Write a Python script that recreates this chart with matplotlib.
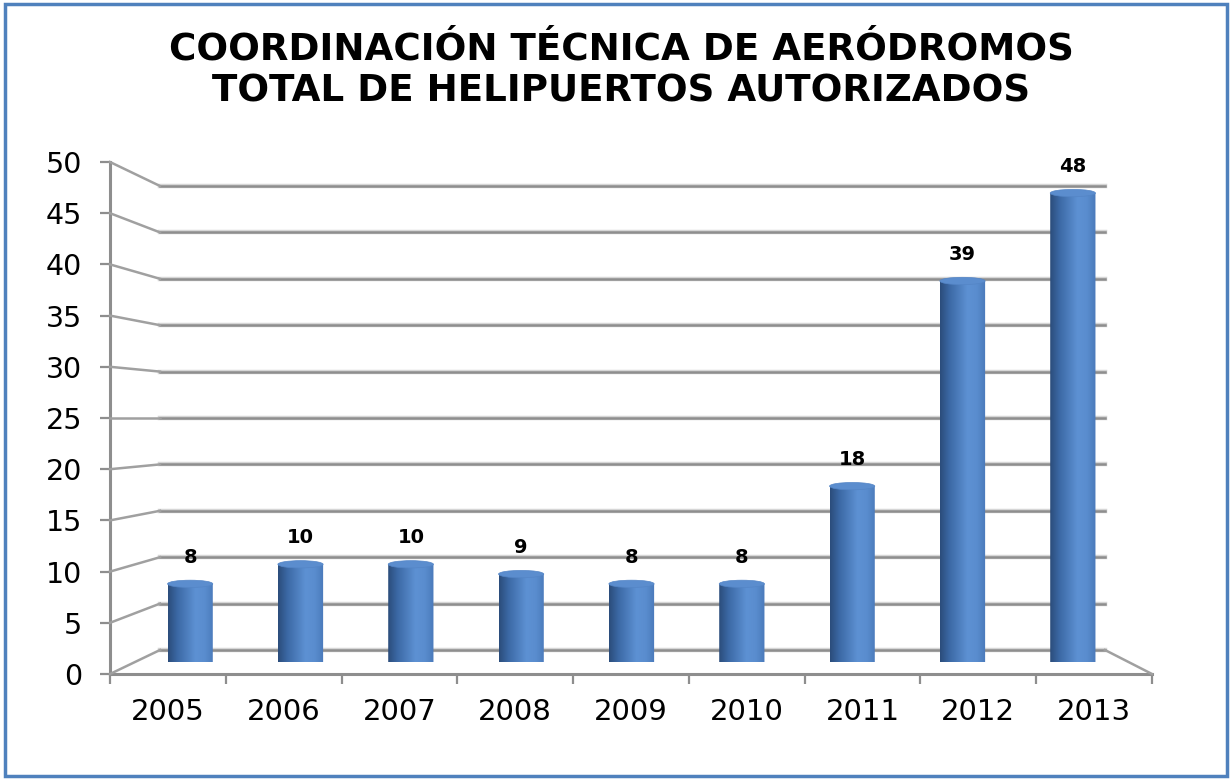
import numpy as np
import matplotlib.pyplot as plt
from matplotlib.colors import LinearSegmentedColormap
from matplotlib.patches import Ellipse, Polygon, Rectangle
from matplotlib.lines import Line2D

years = ['2005', '2006', '2007', '2008', '2009', '2010', '2011', '2012', '2013']
helipuertos = [8, 10, 10, 9, 8, 8, 18, 39, 48]
y_ticks = [0, 5, 10, 15, 20, 25, 30, 35, 40, 45, 50]
title_1 = 'COORDINACIÓN TÉCNICA DE AERÓDROMOS'
title_2 = 'TOTAL DE HELIPUERTOS AUTORIZADOS'

W, H = 1230, 779
grid_col = '#8e8e8e'
font = 'DejaVu Sans'


def box(left, top, right, bottom):
    # pixel box (origin top-left) -> figure fraction rect
    return [left / W, 1 - bottom / H, (right - left) / W, (bottom - top) / H]


fig = plt.figure(figsize=(W / 100, H / 100), dpi=100)
fig.patch.set_facecolor('white')

# back wall
ax_back = fig.add_axes(box(160, 186, 1105, 650))
ax_back.set_xlim(0, 1)
ax_back.set_ylim(0, 50)
ax_back.axis('off')
for v in y_ticks:
    ax_back.axhline(v, color='#d6d6d6', lw=3.2, clip_on=False)
    ax_back.axhline(v, color=grid_col, lw=1.8, clip_on=False)

# front axes (ticks and labels)
ax_front = fig.add_axes(box(110, 162, 1152, 674))
ax_front.patch.set_alpha(0)
ax_front.set_xlim(-0.5, len(years) - 0.5)
ax_front.set_ylim(0, 50)
for s in ['top', 'right']:
    ax_front.spines[s].set_visible(False)
for s in ['left', 'bottom']:
    ax_front.spines[s].set_color(grid_col)
    ax_front.spines[s].set_linewidth(2.2)
ax_front.set_yticks(y_ticks)
ax_front.set_yticklabels([str(v) for v in y_ticks], fontsize=20.5, family=font)
ax_front.set_xticks(range(len(years)))
ax_front.set_xticklabels(years, fontsize=21, family=font)
ax_front.set_xticks(np.arange(len(years) + 1) - 0.5, minor=True)
ax_front.tick_params(axis='y', length=7, width=1.6, color=grid_col, pad=13)
ax_front.tick_params(axis='x', which='major', length=0, pad=17)
ax_front.tick_params(axis='x', which='minor', length=7, width=1.6, color=grid_col)

# depth connectors between front axis and back wall
inv = fig.transFigure.inverted()
for v in y_ticks:
    p0 = inv.transform(ax_front.transData.transform((-0.5, v)))
    p1 = inv.transform(ax_back.transData.transform((0, v)))
    fig.add_artist(Line2D([p0[0], p1[0]], [p0[1], p1[1]], color='#a0a0a0',
                          lw=1.8, transform=fig.transFigure))
p0 = inv.transform(ax_front.transData.transform((len(years) - 0.5, 0)))
p1 = inv.transform(ax_back.transData.transform((1, 0)))
fig.add_artist(Line2D([p0[0], p1[0]], [p0[1], p1[1]], color='#a0a0a0',
                      lw=1.8, transform=fig.transFigure))

# middle plane for the cylinders
ax = fig.add_axes(box(135, 173.5, 1128, 662))
ax.patch.set_alpha(0)
ax.set_xlim(-0.5, len(years) - 0.5)
ax.set_ylim(0, 50)
ax.axis('off')

cmap = LinearSegmentedColormap.from_list('cyl', [
    (0.0, '#2b4c7a'), (0.2, '#3b68a4'), (0.6, '#5d91d3'),
    (0.8, '#5a8dcf'), (1.0, '#4a7aba')])
grad = np.linspace(0, 1, 256).reshape(1, -1)

bw = 0.41
eh = 0.75
t = np.linspace(np.pi, 2 * np.pi, 40)
for i, v in enumerate(helipuertos):
    x0, x1 = i - bw / 2, i + bw / 2
    arc = np.column_stack([i + bw / 2 * np.cos(t), eh / 2 * np.sin(t)])
    pts = np.vstack([[x0, v], arc, [x1, v]])
    body = Polygon(pts, closed=True, facecolor='none', edgecolor='none')
    ax.add_patch(body)
    im = ax.imshow(grad, cmap=cmap, aspect='auto', extent=[x0, x1, -eh, v],
                   zorder=3, interpolation='bilinear')
    im.set_clip_path(body)
    ax.add_patch(Ellipse((i, v), bw, eh, facecolor='#5b8dce',
                         edgecolor='#5485c6', lw=0.5, zorder=4))
    ax.annotate(str(v), (i, v), xytext=(0, 19), textcoords='offset points',
                ha='center', va='center', fontsize=14, fontweight='bold',
                family=font, annotation_clip=False)

ax.set_xlim(-0.5, len(years) - 0.5)
ax.set_ylim(0, 50)

# titles
fig.text(621 / W, 1 - 60 / H, title_1, ha='center', va='baseline',
         fontsize=26.8, fontweight='bold', family=font)
fig.text(621 / W, 1 - 101 / H, title_2, ha='center', va='baseline',
         fontsize=26.8, fontweight='bold', family=font)

# outer frame
fig.patches.append(Rectangle((5 / W, 1 - 776 / H), 1222 / W, 772 / H,
                             transform=fig.transFigure, fill=False,
                             edgecolor='#4f81bd', lw=2.5))

fig.savefig('out.png', dpi=100)
